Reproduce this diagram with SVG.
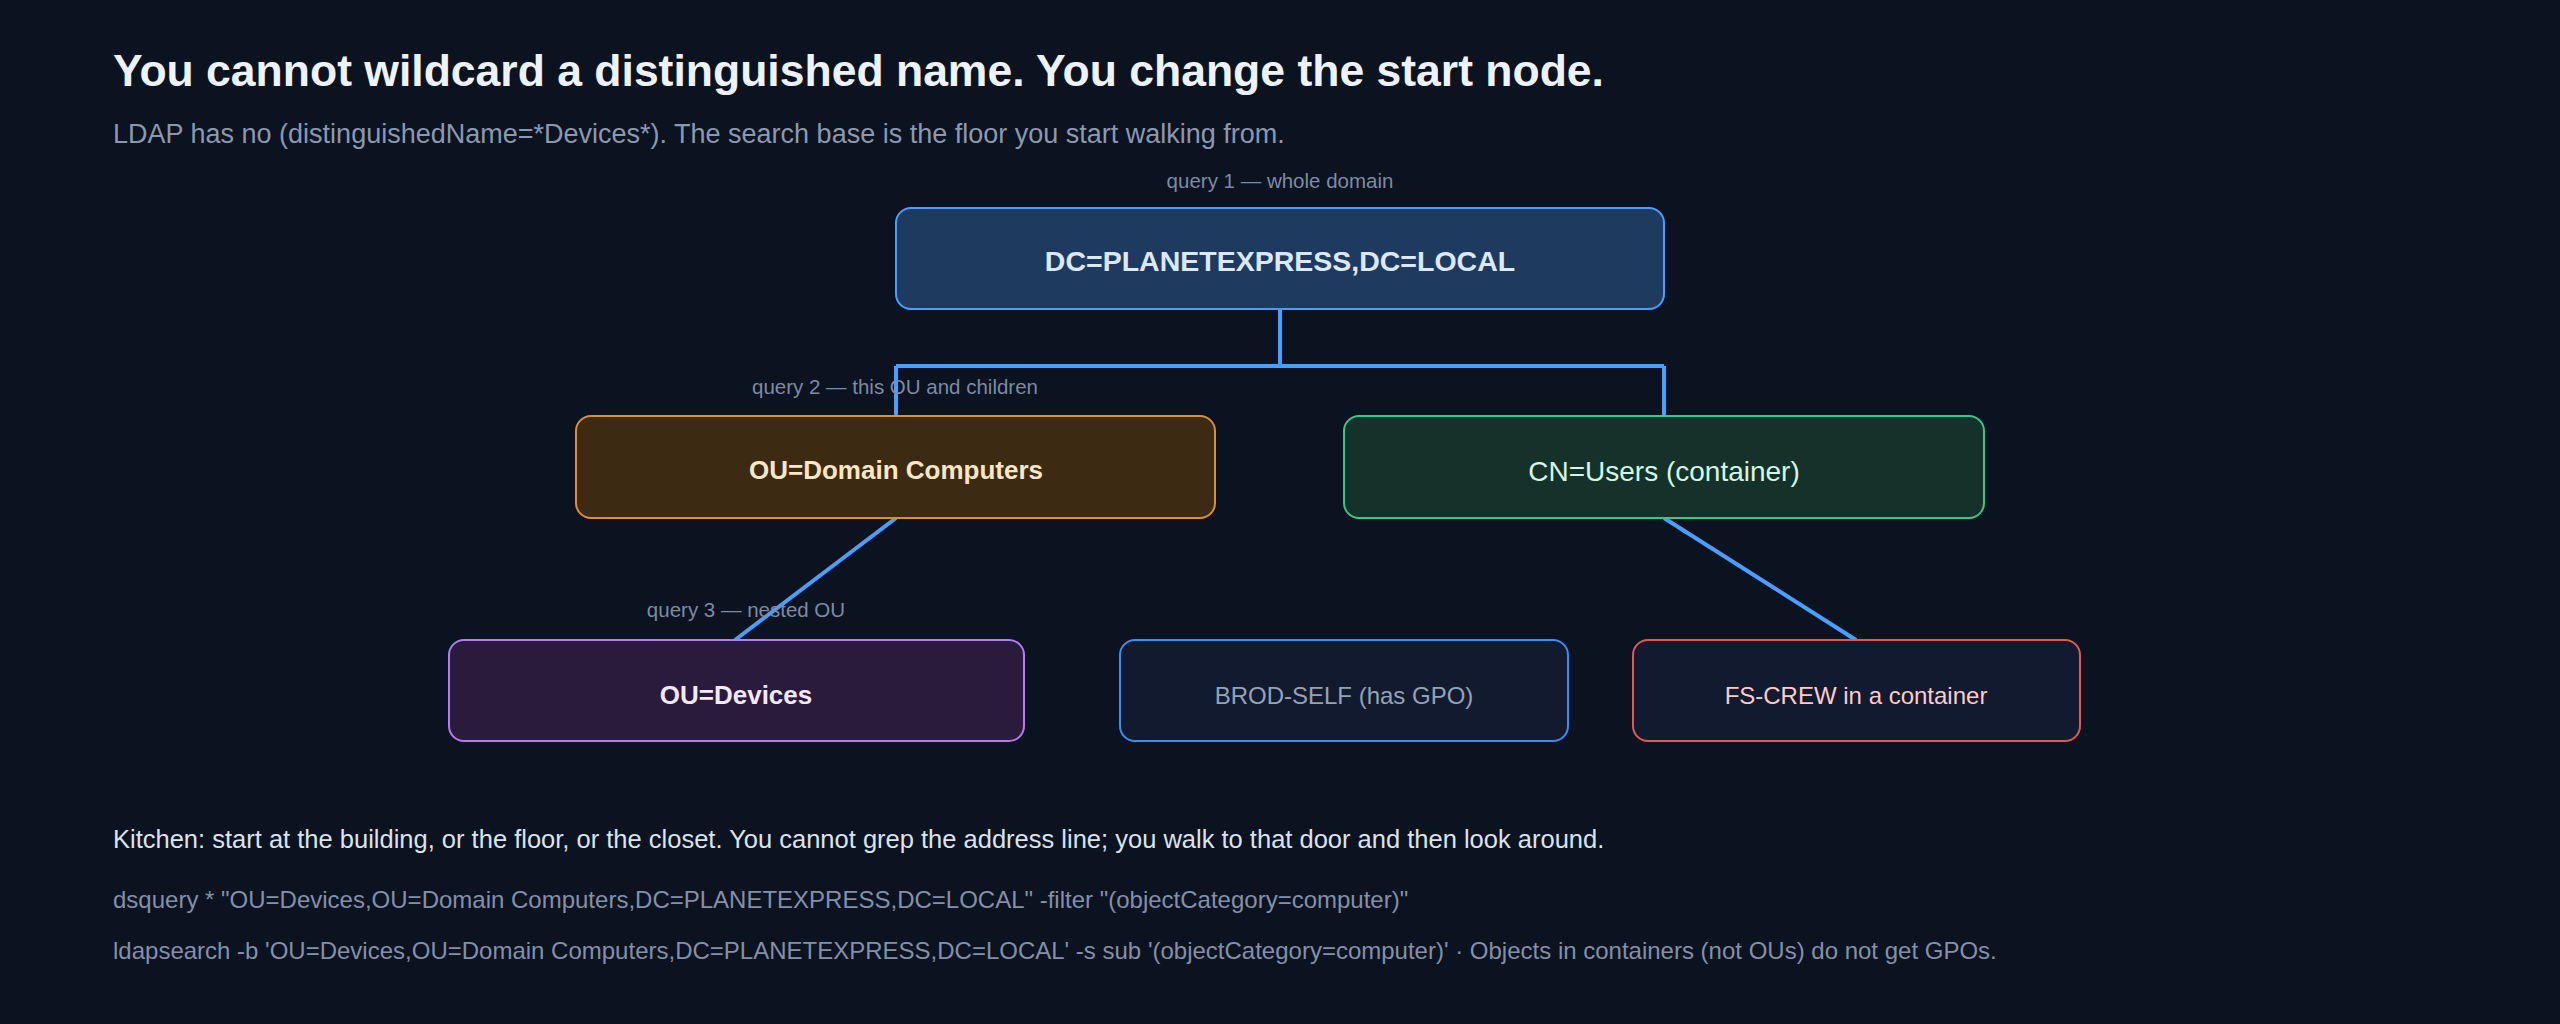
<svg xmlns="http://www.w3.org/2000/svg" width="2560" height="1024" viewBox="0 0 2560 1024">
<style>
text{font-family:"Liberation Sans",Arial,sans-serif}
.t{font-size:44.5px;font-weight:bold;fill:#eef2fa}
.s{font-size:27px;fill:#8b99b0}
.q{font-size:20.5px;fill:#7d8ba3;text-anchor:middle}
.n{font-size:26px;text-anchor:middle;dominant-baseline:central}
.b{font-weight:bold}
.k{font-size:25.5px;fill:#dbe3ee}
.c{font-size:24px;fill:#8390a8}
.e{fill:none;stroke:#4a9eff;stroke-width:4}
</style>
<rect width="2560" height="1024" fill="#0b1220"/>
<text class="t" x="113" y="86">You cannot wildcard a distinguished name. You change the start node.</text>
<text class="s" x="113" y="143">LDAP has no (distinguishedName=*Devices*). The search base is the floor you start walking from.</text>
<g id="connectors">
<path class="e" d="M1280 309V366M896 366H1664M896 366V416M1664 366V416"/>
<path class="e" d="M896 518L735 640M1664 518L1856 640"/>
</g>
<g id="root"><rect x="896" y="208" width="768" height="101" rx="15" fill="#1f3a5f" stroke="#4a9eff" stroke-width="2"/><text class="n b" x="1280" y="261" fill="#dbe8ff" style="font-size:28.5px">DC=PLANETEXPRESS,DC=LOCAL</text></g>
<g id="domaincomputers"><rect x="576" y="416" width="639" height="102" rx="15" fill="#3c2a13" stroke="#d98f3a" stroke-width="2"/><text class="n b" x="896" y="470" fill="#fde6c4">OU=Domain Computers</text></g>
<g id="users"><rect x="1344" y="416" width="640" height="102" rx="15" fill="#15322a" stroke="#3cc48a" stroke-width="2"/><text class="n" x="1664" y="471" fill="#d4f7e6" style="font-size:28px">CN=Users (container)</text></g>
<g id="devices"><rect x="449" y="640" width="575" height="101" rx="15" fill="#2a1b3d" stroke="#b57cf0" stroke-width="2"/><text class="n b" x="736" y="695" fill="#f3e8ff">OU=Devices</text></g>
<g id="brodself"><rect x="1120" y="640" width="448" height="101" rx="15" fill="#111a2e" stroke="#3b8ef0" stroke-width="2"/><text class="n" x="1344" y="695" fill="#94a3b8" style="font-size:24px">BROD-SELF (has GPO)</text></g>
<g id="fscrew"><rect x="1633" y="640" width="447" height="101" rx="15" fill="#111a2e" stroke="#e05a55" stroke-width="2"/><text class="n" x="1856" y="695" fill="#fecaca" style="font-size:24px">FS-CREW in a container</text></g>
<text class="q" x="1280" y="188">query 1 — whole domain</text>
<text class="q" x="895" y="394">query 2 — this OU and children</text>
<text class="q" x="746" y="617">query 3 — nested OU</text>
<text class="k" x="113" y="848">Kitchen: start at the building, or the floor, or the closet. You cannot grep the address line; you walk to that door and then look around.</text>
<text class="c" x="113" y="908">dsquery * "OU=Devices,OU=Domain Computers,DC=PLANETEXPRESS,DC=LOCAL" -filter "(objectCategory=computer)"</text>
<text class="c" x="113" y="959">ldapsearch -b 'OU=Devices,OU=Domain Computers,DC=PLANETEXPRESS,DC=LOCAL' -s sub '(objectCategory=computer)' · Objects in containers (not OUs) do not get GPOs.</text>
</svg>
